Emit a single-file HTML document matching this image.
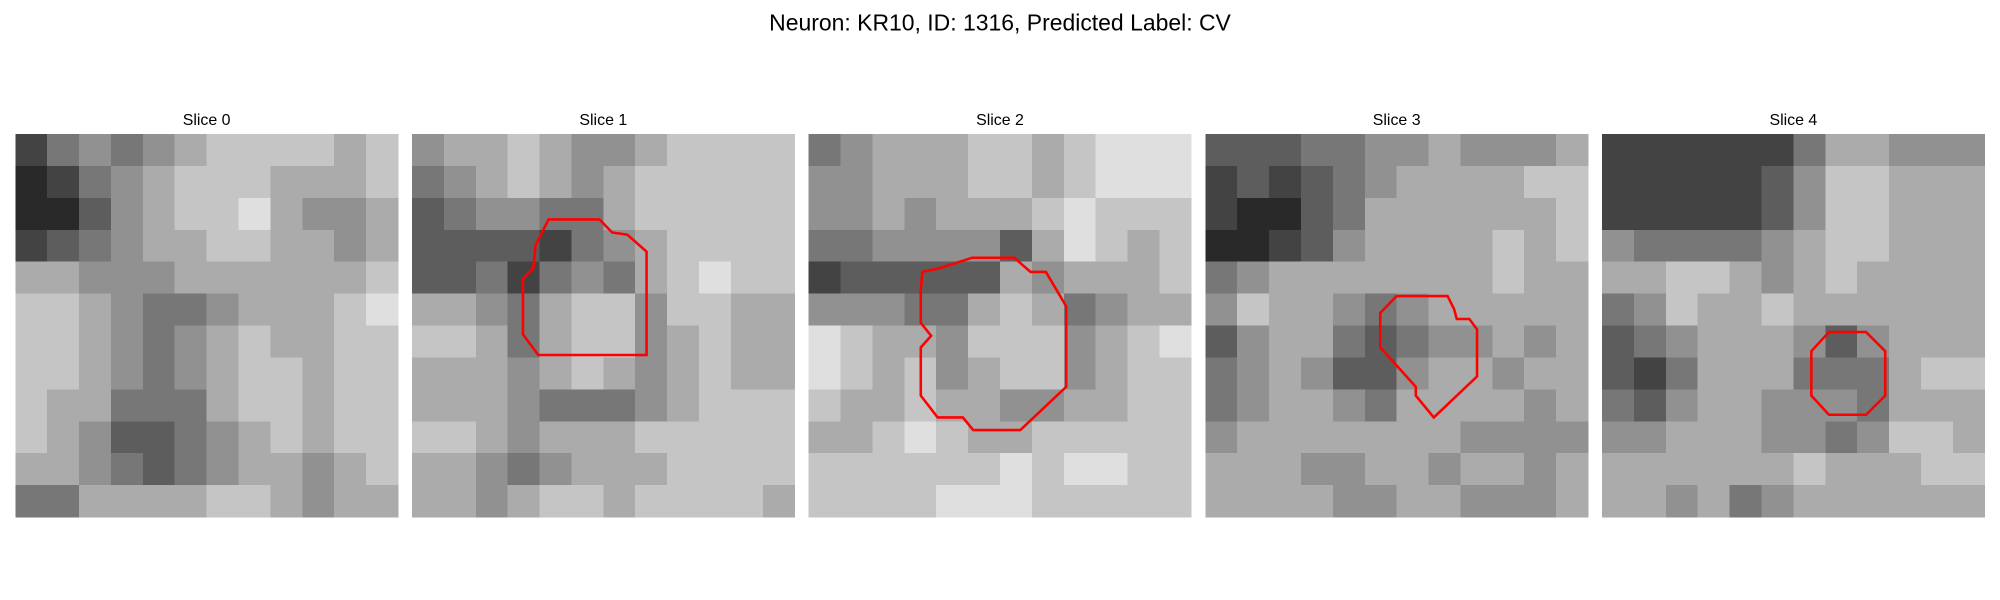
<!DOCTYPE html>
<html><head><meta charset="utf-8">
<style>
html,body{margin:0;padding:0;background:#fff;}
svg{display:block;}
text{font-family:"Liberation Sans","DejaVu Sans",sans-serif;fill:#000;}
</style></head>
<body>
<svg id="fig" width="2000" height="600" viewBox="0 0 1568 470" preserveAspectRatio="none" xmlns="http://www.w3.org/2000/svg">
<rect width="1568" height="470" fill="#fff"/>
<text x="784" y="24" font-size="18" text-anchor="middle">Neuron: KR10, ID: 1316, Predicted Label: CV</text>
</svg>
<script>
const sliceTitles = ["Slice 0","Slice 1","Slice 2","Slice 3","Slice 4"];
const slice0 = [
[2,4,5,4,5,6,7,7,7,7,6,7],[1,2,4,5,6,7,7,7,6,6,6,7],[1,1,3,5,6,7,7,8,6,5,5,6],[2,3,4,5,6,6,7,7,6,6,5,6],
[6,6,5,5,5,6,6,6,6,6,6,7],[7,7,6,5,4,4,5,6,6,6,7,8],[7,7,6,5,4,5,6,7,6,6,7,7],[7,7,6,5,4,5,6,7,7,6,7,7],
[7,6,6,4,4,4,6,7,7,6,7,7],[7,6,5,3,3,4,5,6,7,6,7,7],[6,6,5,4,3,4,5,6,6,5,6,7],[4,4,6,6,6,6,7,7,6,5,6,6]];
const slice1 = [
[5,6,6,7,6,5,5,6,7,7,7,7],[4,5,6,7,6,5,6,7,7,7,7,7],[3,4,5,5,4,4,6,7,7,7,7,7],[3,3,3,3,2,4,5,6,7,7,7,7],
[3,3,4,2,4,5,4,6,7,8,7,7],[6,6,5,4,6,7,7,5,7,7,6,6],[7,7,6,4,6,7,7,5,6,7,6,6],[6,6,6,5,6,7,6,5,6,7,6,6],
[6,6,6,5,4,4,4,5,6,7,7,7],[7,7,6,5,6,6,6,7,7,7,7,7],[6,6,5,4,5,6,6,6,7,7,7,7],[6,6,5,6,7,7,6,7,7,7,7,6]];
const slice2 = [
[4,5,6,6,6,7,7,6,7,8,8,8],[5,5,6,6,6,7,7,6,7,8,8,8],[5,5,6,5,6,6,6,7,8,7,7,7],[4,4,5,5,5,5,3,6,8,7,6,7],
[2,3,3,3,3,3,6,5,6,6,6,7],[5,5,5,4,4,6,7,6,4,5,6,6],[8,7,6,6,5,7,7,7,5,6,7,8],[8,7,6,7,5,6,7,7,5,6,7,7],
[7,6,6,7,6,6,5,5,6,6,7,7],[6,6,7,8,7,6,6,7,7,7,7,7],[7,7,7,7,7,7,8,7,8,8,7,7],[7,7,7,7,8,8,8,7,7,7,7,7]];
const slice3 = [
[3,3,3,4,4,5,5,6,5,5,5,6],[2,3,2,3,4,5,6,6,6,6,7,7],[2,1,1,3,4,6,6,6,6,6,6,7],[1,1,2,3,5,6,6,6,6,7,6,7],
[4,5,6,6,6,6,6,6,6,7,6,6],[5,7,6,6,5,4,5,6,6,6,6,6],[3,5,6,6,4,3,4,5,5,6,5,6],[4,5,6,5,3,3,5,6,6,5,6,6],
[4,5,6,6,5,4,6,6,6,6,5,6],[5,6,6,6,6,6,6,6,5,5,5,5],[6,6,6,5,5,6,6,5,6,6,5,6],[6,6,6,6,5,5,6,6,5,5,5,6]];
const slice4 = [
[2,2,2,2,2,2,4,6,6,5,5,5],[2,2,2,2,2,3,5,7,7,6,6,6],[2,2,2,2,2,3,5,7,7,6,6,6],[5,4,4,4,4,5,6,7,7,6,6,6],
[6,6,7,7,6,5,6,7,6,6,6,6],[4,5,7,6,6,7,6,6,6,6,6,6],[3,4,5,6,6,6,5,3,5,6,6,6],[3,2,4,6,6,6,4,4,4,6,7,7],
[4,3,5,6,6,5,5,5,4,6,6,6],[5,5,6,6,6,5,5,4,5,7,7,6],[6,6,6,6,6,6,7,6,6,6,7,7],[6,6,5,6,4,5,6,6,6,6,6,6]];
const slices = [slice0,slice1,slice2,slice3,slice4];
// contours in fractional panel coordinates [x,y]
const contour1 = [[0.357,0.223],[0.49,0.223],[0.523,0.257],[0.563,0.263],[0.613,0.307],[0.613,0.577],[0.33,0.577],[0.29,0.523],[0.29,0.377],[0.317,0.35],[0.323,0.29]];
const contour2 = [[0.297,0.36],[0.343,0.35],[0.427,0.323],[0.537,0.323],[0.58,0.36],[0.62,0.36],[0.673,0.45],[0.673,0.66],[0.553,0.773],[0.43,0.773],[0.403,0.74],[0.337,0.74],[0.293,0.683],[0.293,0.557],[0.32,0.527],[0.293,0.493],[0.293,0.41]];
const contour3 = [[0.5,0.423],[0.633,0.423],[0.65,0.457],[0.657,0.483],[0.69,0.483],[0.71,0.51],[0.71,0.633],[0.597,0.74],[0.55,0.683],[0.55,0.66],[0.457,0.557],[0.457,0.467]];
const contour4 = [[0.593,0.517],[0.69,0.517],[0.74,0.567],[0.74,0.683],[0.69,0.733],[0.593,0.733],[0.547,0.683],[0.547,0.567]];
const contours = [null,contour1,contour2,contour3,contour4];

const NS="http://www.w3.org/2000/svg";
const svg=document.getElementById('fig');
const panelX0=12, panelStep=311, panelY=105, panelSize=300;
function px(i,f){return panelX0+i*panelStep+f*panelSize;}
function py(f){return panelY+f*panelSize;}
function gray(v){const g=Math.round(15+v*26);return `rgb(${g},${g},${g})`;}
slices.forEach((grid,i)=>{
  const g=document.createElementNS(NS,'g');
  
  
  svg.appendChild(g);
  const n=grid.length, c=panelSize/n;
  grid.forEach((row,r)=>row.forEach((v,k)=>{
    const rc=document.createElementNS(NS,'rect');
    
    
    rc.setAttribute('x',px(i,k/n));rc.setAttribute('y',py(r/n));
    rc.setAttribute('width',c+0.3);rc.setAttribute('height',c+0.3);
    rc.setAttribute('fill',gray(v));rc.setAttribute('shape-rendering','crispEdges');
    g.appendChild(rc);
  }));
  const t=document.createElementNS(NS,'text');
  
  
  t.setAttribute('x',px(i,0.5));t.setAttribute('y',98);
  t.setAttribute('font-size','12.5');t.setAttribute('text-anchor','middle');
  t.textContent=sliceTitles[i];
  g.appendChild(t);
  const ct=contours[i];
  if(ct){
    const p=document.createElementNS(NS,'polygon');
    
    
    p.setAttribute('points',ct.map(q=>px(i,q[0])+','+py(q[1])).join(' '));
    p.setAttribute('fill','none');p.setAttribute('stroke','#f00');p.setAttribute('stroke-width','2');
    g.appendChild(p);
  }
});
</script>
</body></html>
